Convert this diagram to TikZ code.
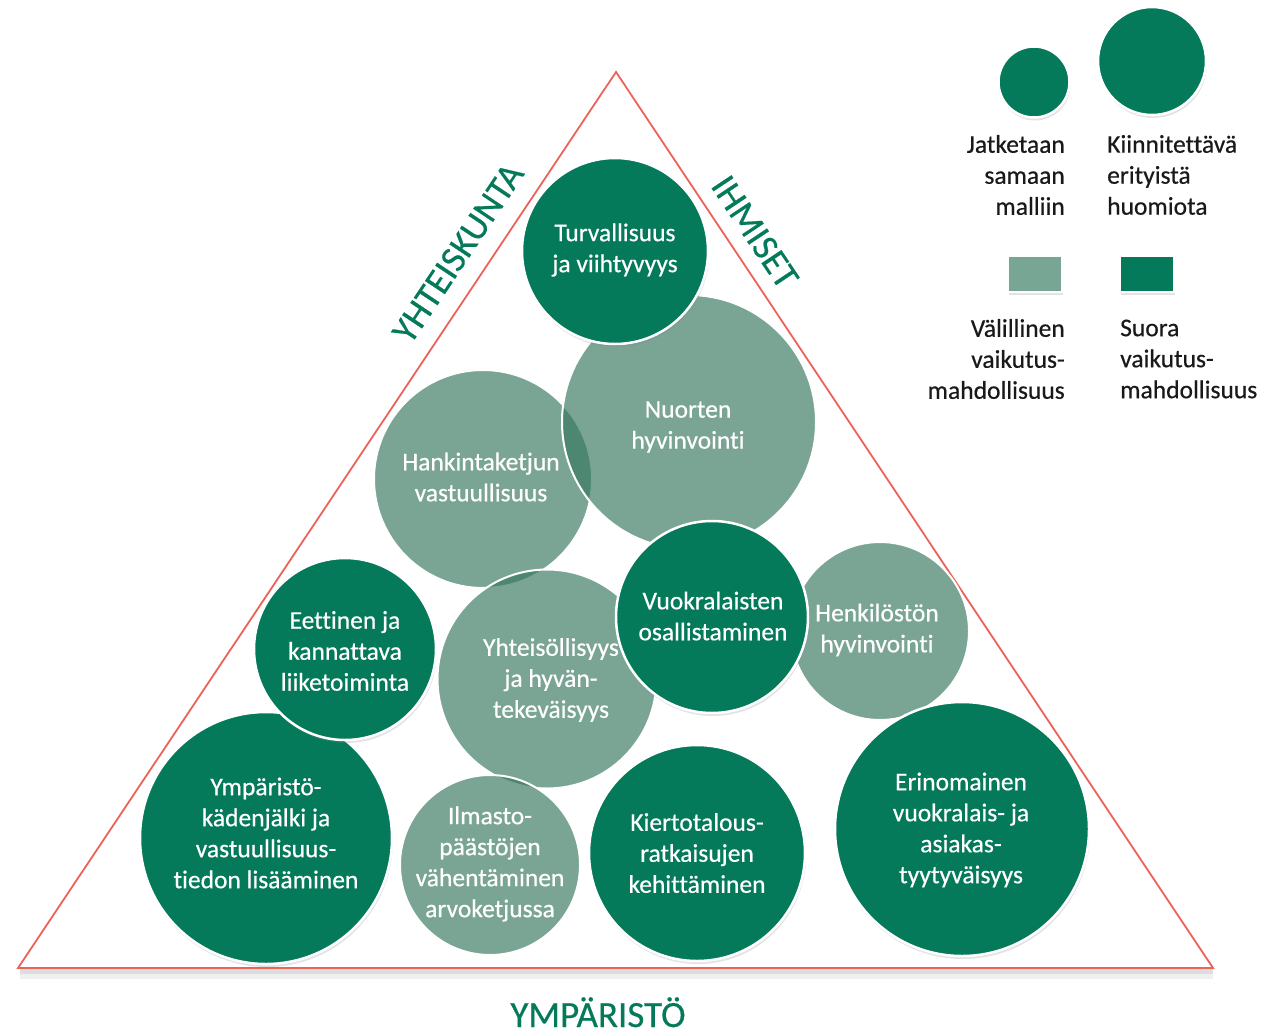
\documentclass[tikz,border=0pt]{standalone}
\usepackage{fontspec}
\setmainfont{Carlito}[Ligatures=NoCommon, FakeBold=0.5]
\usetikzlibrary{shapes.geometric,shadows}
\definecolor{dkgreen}{RGB}{4,122,90}
\definecolor{ltbase}{RGB}{53,118,94}
\definecolor{ltgreen}{RGB}{120,166,148}
\definecolor{trired}{RGB}{235,98,88}
\definecolor{legtext}{RGB}{25,25,25}
\begin{document}
\begin{tikzpicture}[x=1pt,y=-1pt,
  dkcirc/.style={circle, inner sep=0pt, outer sep=0pt, minimum size=#1, fill=dkgreen, draw=white, line width=2.5pt,
     drop shadow={shadow xshift=1pt, shadow yshift=-3pt, opacity=0.22}},
  ltcirc/.style={circle, inner sep=0pt, outer sep=0pt, minimum size=#1, fill=ltbase, fill opacity=0.66, draw=white, line width=2pt},
  ctext/.style={text=white, align=center, inner sep=0pt, font=\fontsize{25.5}{31}\selectfont},
  legtxt/.style={text=legtext, inner sep=0pt, font=\fontsize{25.5}{31}\selectfont},
  sidelabel/.style={text=dkgreen, inner sep=0pt, font=\fontsize{37}{40}\selectfont},
  legsq/.style={rectangle, inner sep=0pt, minimum width=54pt, minimum height=36pt, draw=white, line width=2pt,
     drop shadow={shadow xshift=1pt, shadow yshift=-3pt, opacity=0.22}}
]
\useasboundingbox (0,0) rectangle (1271,1031);

% triangle
\coordinate (apex) at (616,72);
\coordinate (bl) at (18,968);
\coordinate (br) at (1213,968);
\fill[black, opacity=0.06] (20,969) rectangle (1213,979);
\fill[black, opacity=0.08] (20,969) rectangle (1213,974);
\draw[trired, line width=1.8pt, line join=miter] (apex) -- (bl) -- (br) -- cycle;

% light circles
\node[ltcirc=218pt] (hank) at (483,479) {};
\node[ltcirc=254pt] (nuor) at (689,422) {};
\node[ltcirc=219pt] (yhte) at (547,679) {};
\node[ltcirc=178pt] (henk) at (880,631) {};
\node[ltcirc=180pt] (ilma) at (490,865) {};

% dark circles
\node[dkcirc=186pt] (turv) at (615,251) {};
\node[dkcirc=192pt] (vuok) at (712,617) {};
\node[dkcirc=252pt] (ympa) at (266,838) {};
\node[dkcirc=182pt] (eett) at (345,649) {};
\node[dkcirc=216pt] (kier) at (697,853) {};
\node[dkcirc=254pt] (erin) at (962,829) {};

% circle texts
\node[ctext] (tturv) at (615,250) {Turvallisuus\\ja viihtyvyys};
\node[ctext] (tnuor) at (688,427) {Nuorten\\hyvinvointi};
\node[ctext] (thank) at (481,477) {Hankintaketjun\\vastuullisuus};
\node[ctext] (teett) at (345,651) {Eettinen ja\\kannattava\\liiketoiminta};
\node[ctext] (tyhte) at (551,680) {Yhteisöllisyys\\ja hyvän-\\tekeväisyys};
\node[ctext] (tvuok) at (713,616) {Vuokralaisten\\osallistaminen};
\node[ctext] (thenk) at (877,630) {Henkilöstön\\hyvinvointi};
\node[ctext] (tympa) at (266,833) {Ympäristö-\\kädenjälki ja\\vastuullisuus-\\tiedon lisääminen};
\node[ctext] (tilma) at (490,864) {Ilmasto-\\päästöjen\\vähentäminen\\arvoketjussa};
\node[ctext] (tkier) at (697,853) {Kiertotalous-\\ratkaisujen\\kehittäminen};
\node[ctext] (terin) at (961,830) {Erinomainen\\vuokralais- ja\\asiakas-\\tyytyväisyys};

% side labels
\node[sidelabel, rotate=56.3] (lyht) at (458,253) {YHTEISKUNTA};
\node[sidelabel, rotate=-56.3] (lihm) at (755,232) {IHMISET};
\node[sidelabel, anchor=base] (lymp) at (598,1027) {YMPÄRISTÖ};

% legend
\node[dkcirc=71pt] (legsmall) at (1034,82) {};
\node[dkcirc=108pt] (legbig) at (1152,61) {};
\node[legtxt, align=right, anchor=east] (legt1) at (1065,175) {Jatketaan\\samaan\\malliin};
\node[legtxt, align=left, anchor=west] (legt2) at (1107,175) {Kiinnitettävä\\erityistä\\huomiota};
\node[legsq, fill=ltgreen] (legsq1) at (1034.5,274) {};
\node[legsq, fill=dkgreen] (legsq2) at (1147,274) {};
\node[legtxt, align=right, anchor=east] (legt3) at (1065,359) {Välillinen\\vaikutus-\\mahdollisuus};
\node[legtxt, align=left, anchor=west] (legt4) at (1120,359) {Suora\\vaikutus-\\mahdollisuus};
\end{tikzpicture}
\end{document}
